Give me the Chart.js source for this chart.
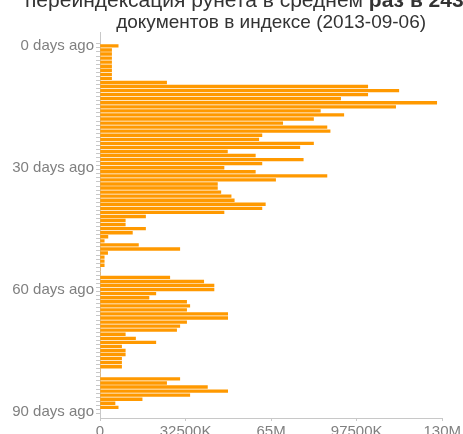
<!DOCTYPE html>
<html>
<head>
<meta charset="utf-8">
<script src="https://cdn.jsdelivr.net/npm/chart.js@4/dist/chart.umd.min.js"></script>
<style>
  html, body { margin: 0; padding: 0; background: #fff; overflow: hidden; }
  canvas { display: block; }
</style>
</head>
<body>
<canvas id="reindex-chart" width="463" height="434"></canvas>
<script>
// title (first line is cut at the top of the picture)
const titleStart = "переиндексация рунета в среднем ";
const titleBold = "раз в 243";
const titleLine2 = "документов в индексе (2013-09-06)";

// days ago, one bar per day
const days = [
  0, 1, 2, 3, 4, 5, 6, 7, 8, 9,
  10, 11, 12, 13, 14, 15, 16, 17, 18, 19,
  20, 21, 22, 23, 24, 25, 26, 27, 28, 29,
  30, 31, 32, 33, 34, 35, 36, 37, 38, 39,
  40, 41, 42, 43, 44, 45, 46, 47, 48, 49,
  50, 51, 52, 53, 54, 55, 56, 57, 58, 59,
  60, 61, 62, 63, 64, 65, 66, 67, 68, 69,
  70, 71, 72, 73, 74, 75, 76, 77, 78, 79,
  80, 81, 82, 83, 84, 85, 86, 87, 88, 89
];

// reindexed documents, millions
const documents = [
  6.9, 4.4, 4.4, 4.4, 4.4, 4.4, 4.4, 4.4, 4.4, 25.3,
  101.7, 113.5, 101.7, 91.4, 127.9, 112.3, 83.7, 92.6, 81.1, 69.4,
  86.2, 87.4, 61.5, 60.3, 81.1, 75.9, 48.4, 59.0, 77.2, 61.5,
  47.1, 59.0, 86.2, 66.7, 44.6, 44.6, 45.9, 49.8, 51.0, 62.8,
  61.5, 47.1, 17.3, 9.6, 9.6, 17.3, 12.3, 3.0, 1.6, 14.6,
  30.3, 2.9, 1.6, 1.6, 1.6, 0, 0, 26.5, 39.4, 43.3,
  43.3, 21.2, 18.6, 32.9, 34.1, 32.9, 48.5, 48.5, 32.9, 30.3,
  29.1, 9.6, 13.5, 21.2, 8.2, 9.6, 9.6, 8.2, 8.2, 8.2,
  0, 0, 30.3, 25.3, 40.8, 48.5, 34.1, 16.0, 5.7, 6.9
];

const dayTicks = [0, 30, 60, 90];
const xTicks = [0, 32.5, 65, 97.5, 130];

const fontFamily = '"Liberation Sans", Arial, Helvetica, sans-serif';

function formatCount(v) {
    if (v === 0) return "0";
    if (Number.isInteger(v)) return v + "M";
    return Math.round(v * 1000) + "K";
}

const titlePlugin = {
    id: "twoLineTitle",
    afterDraw(chart) {
        const ctx = chart.ctx;
        const center = (chart.chartArea.left + chart.chartArea.right) / 2;
        ctx.save();
        ctx.fillStyle = "#333";
        ctx.textBaseline = "alphabetic";
        ctx.textAlign = "left";
        ctx.font = "21px " + fontFamily;
        ctx.fillText(titleStart, 25, 7);
        const w = ctx.measureText(titleStart).width;
        ctx.font = "bold 21px " + fontFamily;
        ctx.fillText(titleBold, 25 + w, 7);
        ctx.textAlign = "center";
        ctx.font = "19px " + fontFamily;
        ctx.fillText(titleLine2, center, 28);
        ctx.restore();
    }
};

const points = days.map((d, i) => ({ y: d, x: documents[i] }));

new Chart(document.getElementById("reindex-chart"), {
    type: "bar",
    data: {
        datasets: [{
            data: points,
            backgroundColor: "#ff9900",
            borderWidth: 0,
            barThickness: 2.7
        }]
    },
    options: {
        indexAxis: "y",
        responsive: false,
        animation: false,
        layout: { padding: { top: 32, right: 20, left: 0, bottom: 0 } },
        plugins: {
            legend: { display: false },
            title: { display: false },
            tooltip: { enabled: false }
        },
        scales: {
            y: {
                type: "linear",
                reverse: true,
                min: -2.9,
                max: 91.1,
                afterBuildTicks: scale => {
                    const t = [];
                    for (let d = 0; d <= 90; d++) t.push({ value: d });
                    scale.ticks = t;
                },
                afterFit: scale => { scale.width = 100; },
                border: { color: "#c8c8c8", width: 1 },
                grid: { drawOnChartArea: false, drawTicks: true, tickLength: 4, color: "#c8c8c8" },
                ticks: {
                    autoSkip: false,
                    padding: 2,
                    color: "#808080",
                    font: { family: fontFamily, size: 15 },
                    callback: v => dayTicks.includes(v) ? v + " days ago" : ""
                }
            },
            x: {
                type: "linear",
                position: "bottom",
                min: 0,
                max: 130,
                afterBuildTicks: scale => { scale.ticks = xTicks.map(v => ({ value: v })); },
                afterFit: scale => { scale.height = 16; },
                border: { color: "#c8c8c8", width: 1 },
                grid: { drawOnChartArea: false, drawTicks: true, tickLength: 3, color: "#c8c8c8" },
                ticks: {
                    padding: 2,
                    color: "#808080",
                    maxRotation: 0,
                    font: { family: fontFamily, size: 15 },
                    callback: v => formatCount(v)
                }
            }
        }
    },
    plugins: [titlePlugin]
});
</script>
</body>
</html>
